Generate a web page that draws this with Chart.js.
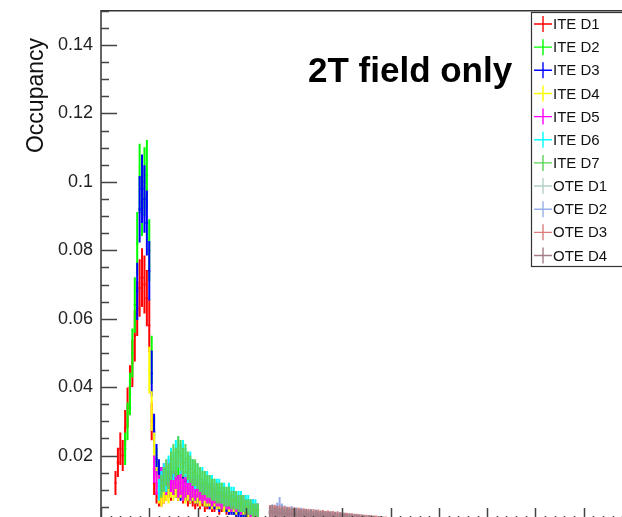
<!DOCTYPE html>
<html>
<head>
<meta charset="utf-8">
<script src="https://cdn.jsdelivr.net/npm/chart.js@4.4.0/dist/chart.umd.min.js"></script>
<style>
  html, body { margin: 0; padding: 0; background: #fff; overflow: hidden; }
  #wrap { position: relative; width: 640px; height: 560px; overflow: hidden; }
  #occChart { position: absolute; left: 0; top: -8px; }
</style>
</head>
<body>
<div id="wrap"><canvas id="occChart" width="640" height="568"></canvas></div>
<script>
  // Histogram bin width (x units) and bin centre of the first entry of each series
  const BIN = 0.05;
  const seriesNames = ["ITE D1", "ITE D2", "ITE D3", "ITE D4", "ITE D5", "ITE D6", "ITE D7",
                       "OTE D1", "OTE D2", "OTE D3", "OTE D4"];
  const seriesColors = ["#ff0000", "#00ff00", "#0000ff", "#ffff00", "#ff00ff", "#00ffff", "#59d454",
                        "#b5cfc5", "#98aee6", "#dc7c7c", "#a37f87"];
  const seriesStart = [0.30, 0.50, 0.75, 1.00, 1.10, 1.20, 1.25, 3.50, 3.50, 3.50, 3.50];

  const iteD1 = [0.012, 0.018, 0.022, 0.020, 0.028, 0.034, 0.040, 0.047, 0.055, 0.063, 0.069, 0.072,
    0.070, 0.066, 0.058, 0.030, 0.012, 0.009, 0.008, 0.008, 0.009, 0.010, 0.011, 0.010, 0.012, 0.011,
    0.010, 0.011, 0.009, 0.010, 0.008, 0.009, 0.008, 0.007, 0.008, 0.007, 0.008, 0.006, 0.007, 0.007,
    0.006, 0.006, 0.007, 0.005, 0.006, 0.006, 0.005, 0.005, 0.006, 0.005, 0.004, 0.005, 0.004, 0.005,
    0.004, 0.004, 0.004, 0.003, 0.004];
  const iteD2 = [0.022, 0.030, 0.038, 0.050, 0.064, 0.082, 0.101, 0.094, 0.100, 0.102, 0.080, 0.048,
    0.026, 0.018, 0.014, 0.012, 0.013, 0.012, 0.013, 0.014, 0.013, 0.012, 0.013, 0.012, 0.011, 0.012,
    0.011, 0.011, 0.010, 0.010, 0.010, 0.009, 0.009, 0.010, 0.008, 0.009, 0.008, 0.008, 0.007, 0.008,
    0.007, 0.007, 0.006, 0.006, 0.006, 0.005, 0.005, 0.005, 0.005, 0.004, 0.004, 0.004, 0.004, 0.003,
    0.004];
  const iteD3 = [0.068, 0.092, 0.098, 0.095, 0.088, 0.074, 0.044, 0.027, 0.019, 0.015, 0.013,
    0.012, 0.013, 0.012, 0.011, 0.012, 0.011, 0.011, 0.010, 0.011, 0.010, 0.010, 0.009, 0.010, 0.009,
    0.009, 0.008, 0.009, 0.008, 0.008, 0.007, 0.008, 0.007, 0.007, 0.006, 0.007, 0.006, 0.006, 0.005,
    0.005, 0.005, 0.004, 0.004, 0.004, 0.004, 0.004, 0.003, 0.004, 0.003, 0.003];
  const iteD4 = [0.045, 0.033, 0.022, 0.013, 0.009, 0.008, 0.009, 0.010, 0.009, 0.011, 0.010, 0.011,
    0.010, 0.011, 0.010, 0.009, 0.010, 0.009, 0.010, 0.009, 0.009, 0.008, 0.009, 0.008, 0.008, 0.008,
    0.007, 0.008, 0.007, 0.007, 0.007, 0.006, 0.007, 0.006, 0.006, 0.006, 0.005, 0.006, 0.005, 0.005,
    0.005, 0.004, 0.004, 0.004, 0.004, 0.003];
  const iteD5 = [0.016, 0.012, 0.011, 0.013, 0.014, 0.012, 0.015, 0.013, 0.012, 0.014, 0.011, 0.012,
    0.010, 0.011, 0.012, 0.010, 0.011, 0.010, 0.011, 0.010, 0.009, 0.010, 0.009, 0.009, 0.008, 0.009,
    0.008, 0.008, 0.007, 0.008, 0.007, 0.007, 0.006, 0.007, 0.006, 0.006, 0.005, 0.006, 0.005, 0.005,
    0.004, 0.005, 0.004, 0.004];
  const iteD6 = [0.010, 0.012, 0.014, 0.013, 0.016, 0.018, 0.017, 0.020, 0.021, 0.019, 0.020, 0.018,
    0.016, 0.017, 0.015, 0.014, 0.014, 0.013, 0.013, 0.012, 0.012, 0.011, 0.011, 0.010, 0.010, 0.010,
    0.009, 0.009, 0.008, 0.009, 0.008, 0.008, 0.007, 0.007, 0.007, 0.006, 0.006, 0.006, 0.005, 0.005,
    0.005, 0.004];
  const iteD7 = [0.011, 0.013, 0.015, 0.014, 0.017, 0.019, 0.018, 0.021, 0.020, 0.018, 0.019, 0.017,
    0.016, 0.015, 0.015, 0.014, 0.013, 0.012, 0.012, 0.011, 0.011, 0.010, 0.010, 0.009, 0.009, 0.009,
    0.008, 0.008, 0.008, 0.007, 0.007, 0.007, 0.006, 0.006, 0.006, 0.005, 0.005, 0.005, 0.004, 0.004,
    0.004];
  const oteD1 = [0.0030, 0.0035, 0.0032, 0.0028, 0.0030, 0.0026, 0.0029, 0.0025, 0.0027, 0.0024, 0.0026,
    0.0023, 0.0025, 0.0022, 0.0024, 0.0021, 0.0023, 0.0020, 0.0022, 0.0019, 0.0021, 0.0019, 0.0020,
    0.0018, 0.0019, 0.0017, 0.0018, 0.0017, 0.0016, 0.0017, 0.0015, 0.0016, 0.0015, 0.0014, 0.0015,
    0.0013, 0.0014, 0.0013, 0.0012, 0.0013, 0.0012, 0.0011, 0.0012, 0.0011, 0.0010, 0.0011, 0.0010,
    0.0010, 0.0009, 0.0009, 0.0008, 0.0008];
  const oteD2 = [0.0034, 0.0038, 0.0036, 0.0042, 0.0055, 0.0040, 0.0035, 0.0033, 0.0030, 0.0034, 0.0029,
    0.0031, 0.0027, 0.0030, 0.0026, 0.0028, 0.0025, 0.0027, 0.0023, 0.0026, 0.0024, 0.0022, 0.0025,
    0.0021, 0.0023, 0.0020, 0.0022, 0.0019, 0.0021, 0.0018, 0.0019, 0.0017, 0.0018, 0.0016, 0.0017,
    0.0015, 0.0016, 0.0014, 0.0015, 0.0013, 0.0014, 0.0012, 0.0013, 0.0011, 0.0012, 0.0010, 0.0011,
    0.0010, 0.0009, 0.0009, 0.0008, 0.0008];
  const oteD3 = [0.0036, 0.0033, 0.0037, 0.0032, 0.0035, 0.0031, 0.0034, 0.0030, 0.0032, 0.0029, 0.0031,
    0.0028, 0.0030, 0.0027, 0.0029, 0.0026, 0.0028, 0.0025, 0.0027, 0.0024, 0.0026, 0.0023, 0.0025,
    0.0022, 0.0024, 0.0021, 0.0023, 0.0020, 0.0022, 0.0019, 0.0020, 0.0018, 0.0019, 0.0017, 0.0018,
    0.0016, 0.0017, 0.0015, 0.0016, 0.0014, 0.0015, 0.0013, 0.0014, 0.0012, 0.0013, 0.0011, 0.0012,
    0.0010, 0.0011, 0.0009, 0.0010, 0.0008];
  const oteD4 = [0.0033, 0.0036, 0.0031, 0.0034, 0.0030, 0.0033, 0.0029, 0.0031, 0.0028, 0.0030, 0.0027,
    0.0029, 0.0026, 0.0028, 0.0025, 0.0027, 0.0024, 0.0026, 0.0023, 0.0025, 0.0022, 0.0024, 0.0021,
    0.0023, 0.0020, 0.0022, 0.0019, 0.0021, 0.0018, 0.0020, 0.0017, 0.0019, 0.0016, 0.0018, 0.0015,
    0.0017, 0.0014, 0.0016, 0.0013, 0.0015, 0.0012, 0.0014, 0.0011, 0.0013, 0.0010, 0.0012, 0.0009,
    0.0011, 0.0008, 0.0010, 0.0008, 0.0009];

  const seriesValues = [iteD1, iteD2, iteD3, iteD4, iteD5, iteD6, iteD7, oteD1, oteD2, oteD3, oteD4];

  // Axis ranges and ticks
  const X_MIN = 0, X_MAX = 11, X_MINOR = 0.2;
  const Y_MIN = 0, Y_MAX = 0.15, Y_STEP = 0.02, Y_MINOR = 0.005;
  const ERR_SCALE = 0.032; // error bar half-height = ERR_SCALE * sqrt(value)

  const FONT = "'Liberation Sans', Arial, Helvetica, sans-serif";
  const SHIFT = 8; // canvas is moved up by this much on the page (see CSS)

  const datasets = seriesNames.map((name, s) => ({
    label: name,
    data: seriesValues[s].map((v, i) => ({ x: +(seriesStart[s] + i * BIN).toFixed(3), y: v })),
    borderColor: seriesColors[s],
    backgroundColor: seriesColors[s],
    pointRadius: 0,
    showLine: false,
  }));

  /**
   * Histogram entries drawn ROOT style: bin-wide bar plus vertical error bar
   */
  const errorBars = {
    id: "errorBars",
    afterDatasetsDraw(chart) {
      const { ctx, chartArea: a, scales: { x, y } } = chart;
      ctx.save();
      ctx.beginPath();
      ctx.rect(a.left, a.top, a.right - a.left, a.bottom - a.top);
      ctx.clip();
      ctx.lineWidth = 2;
      chart.data.datasets.forEach((ds) => {
        ctx.strokeStyle = ds.borderColor;
        ctx.beginPath();
        ds.data.forEach((p) => {
          const e = ERR_SCALE * Math.sqrt(p.y);
          const px = x.getPixelForValue(p.x);
          const py = y.getPixelForValue(p.y);
          ctx.moveTo(x.getPixelForValue(p.x - BIN / 2), py);
          ctx.lineTo(x.getPixelForValue(p.x + BIN / 2), py);
          ctx.moveTo(px, y.getPixelForValue(p.y - e));
          ctx.lineTo(px, y.getPixelForValue(p.y + e));
        });
        ctx.stroke();
      });
      ctx.restore();
    },
  };

  /**
   * Frame, inward ticks, axis title, header text and legend box
   */
  const frameAndLegend = {
    id: "frameAndLegend",
    afterDraw(chart) {
      const { ctx, chartArea: a, scales: { x, y } } = chart;
      ctx.save();

      // frame
      ctx.strokeStyle = "#333";
      ctx.lineWidth = 1.5;
      ctx.beginPath();
      ctx.moveTo(a.left, a.bottom);
      ctx.lineTo(a.left, a.top);
      ctx.lineTo(a.right, a.top);
      ctx.stroke();

      // y ticks (pointing into the plot)
      ctx.strokeStyle = "#444";
      ctx.beginPath();
      for (let k = 0; Y_MIN + k * Y_MINOR <= Y_MAX + 1e-9; k++) {
        const v = Y_MIN + k * Y_MINOR;
        const py = Math.round(y.getPixelForValue(v)) + 0.5;
        const len = k % 4 === 0 ? 16 : 8;
        ctx.moveTo(a.left, py);
        ctx.lineTo(a.left + len, py);
      }
      // x ticks
      for (let k = 0; X_MIN + k * X_MINOR <= X_MAX + 1e-9; k++) {
        const v = X_MIN + k * X_MINOR;
        const px = Math.round(x.getPixelForValue(v)) + 0.5;
        const len = k % 5 === 0 ? 16 : 8;
        ctx.moveTo(px, a.bottom);
        ctx.lineTo(px, a.bottom - len);
      }
      ctx.stroke();

      // y axis title
      ctx.save();
      ctx.translate(43, 38 + SHIFT);
      ctx.rotate(-Math.PI / 2);
      ctx.fillStyle = "#111";
      ctx.font = "23px " + FONT;
      ctx.textAlign = "right";
      ctx.textBaseline = "alphabetic";
      ctx.fillText("Occupancy", 0, 0);
      ctx.restore();

      // header text
      ctx.fillStyle = "#000";
      ctx.font = "bold 35px " + FONT;
      ctx.textAlign = "left";
      ctx.textBaseline = "alphabetic";
      ctx.fillText("2T field only", 308, 82 + SHIFT);

      // legend box
      const lx = 531, ly = 12 + SHIFT, lw = 95, lh = 254;
      ctx.fillStyle = "#fff";
      ctx.fillRect(lx, ly, lw, lh);
      ctx.strokeStyle = "#333";
      ctx.lineWidth = 1.2;
      ctx.strokeRect(lx + 0.5, ly + 0.5, lw, lh);
      ctx.font = "15px " + FONT;
      ctx.textBaseline = "middle";
      chart.data.datasets.forEach((ds, i) => {
        const cy = 24 + SHIFT + i * 23.15;
        ctx.strokeStyle = ds.borderColor;
        ctx.lineWidth = 1.4;
        ctx.beginPath();
        ctx.moveTo(534, cy);
        ctx.lineTo(552, cy);
        ctx.moveTo(543, cy - 8);
        ctx.lineTo(543, cy + 8);
        ctx.stroke();
        ctx.fillStyle = "#111";
        ctx.fillText(ds.label, 553, cy + 1);
      });

      ctx.restore();
    },
  };

  new Chart(document.getElementById("occChart"), {
    type: "scatter",
    data: { datasets: datasets },
    options: {
      responsive: false,
      animation: false,
      devicePixelRatio: 1,
      layout: { padding: { top: 4, right: 8, left: 0, bottom: 0 } },
      plugins: {
        legend: { display: false },
        tooltip: { enabled: false },
      },
      scales: {
        x: {
          type: "linear",
          min: X_MIN,
          max: X_MAX,
          grid: { display: false },
          border: { display: false },
          ticks: { display: false },
          afterFit: function (scale) { scale.height = 36; },
        },
        y: {
          type: "linear",
          min: Y_MIN,
          max: Y_MAX,
          grid: { display: false, drawTicks: false },
          border: { display: false },
          ticks: {
            stepSize: Y_STEP,
            padding: 8,
            color: "#222",
            font: { family: FONT, size: 18 },
            callback: function (v) {
              const n = v / Y_STEP;
              if (v === 0 || Math.abs(n - Math.round(n)) > 1e-6) return "";
              return String(+v.toFixed(2));
            },
          },
          afterFit: function (scale) { scale.width = 101; },
        },
      },
    },
    plugins: [errorBars, frameAndLegend],
  });
</script>
</body>
</html>
